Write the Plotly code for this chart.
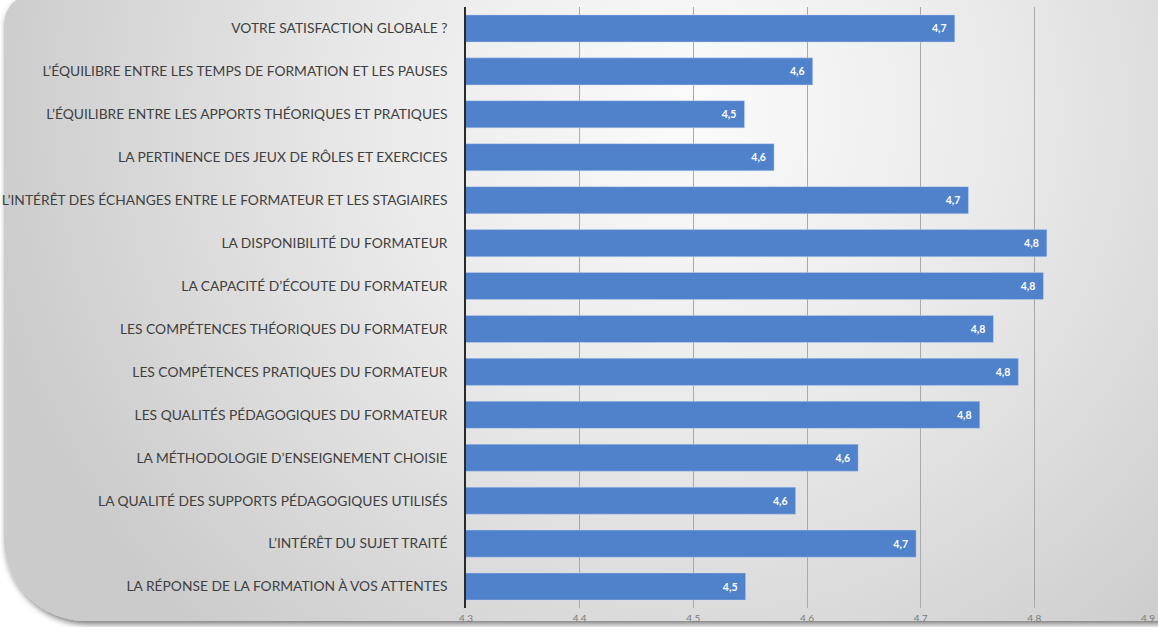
import plotly.graph_objects as go
from urllib.parse import quote

categories = [
    "VOTRE SATISFACTION GLOBALE ?",
    "L’ÉQUILIBRE ENTRE LES TEMPS DE FORMATION ET LES PAUSES",
    "L’ÉQUILIBRE ENTRE LES APPORTS THÉORIQUES ET PRATIQUES",
    "LA PERTINENCE DES JEUX DE RÔLES ET EXERCICES",
    "L’INTÉRÊT DES ÉCHANGES ENTRE LE FORMATEUR ET LES STAGIAIRES",
    "LA DISPONIBILITÉ DU FORMATEUR",
    "LA CAPACITÉ D’ÉCOUTE DU FORMATEUR",
    "LES COMPÉTENCES THÉORIQUES DU FORMATEUR",
    "LES COMPÉTENCES PRATIQUES DU FORMATEUR",
    "LES QUALITÉS PÉDAGOGIQUES DU FORMATEUR",
    "LA MÉTHODOLOGIE D’ENSEIGNEMENT CHOISIE",
    "LA QUALITÉ DES SUPPORTS PÉDAGOGIQUES UTILISÉS",
    "L’INTÉRÊT DU SUJET TRAITÉ",
    "LA RÉPONSE DE LA FORMATION À VOS ATTENTES",
]
values = [4.730, 4.605, 4.545, 4.571, 4.742, 4.811, 4.808,
          4.764, 4.786, 4.752, 4.645, 4.590, 4.696, 4.546]
value_labels = ["4,7", "4,6", "4,5", "4,6", "4,7", "4,8", "4,8",
                "4,8", "4,8", "4,8", "4,6", "4,6", "4,7", "4,5"]
tick_vals = [4.3, 4.4, 4.5, 4.6, 4.7, 4.8, 4.9]
tick_text = ["4.3", "4.4", "4.5", "4.6", "4.7", "4.8", "4.9"]

W, H = 1158, 627
ML, MR, MT, MB = 466, 10, 7, 19

svg = f'''<svg xmlns="http://www.w3.org/2000/svg" width="{W}" height="{H}" viewBox="0 0 {W} {H}">
<defs>
<radialGradient id="g" gradientUnits="userSpaceOnUse" cx="690" cy="110" r="720">
<stop offset="0" stop-color="#fbfbfb"/>
<stop offset="0.45" stop-color="#e9e9e9"/>
<stop offset="1" stop-color="#cbcbcb"/>
</radialGradient>
<filter id="s" x="-5%" y="-5%" width="110%" height="110%">
<feDropShadow dx="2" dy="3" stdDeviation="3" flood-color="#000" flood-opacity="0.55"/>
</filter>
</defs>
<rect width="{W}" height="{H}" fill="#ffffff"/>
<path d="M 34 -6 H 1175 V 621 H 86 A 82 82 0 0 1 4 539 V 24 A 30 30 0 0 1 34 -6 Z" fill="url(#g)" filter="url(#s)"/>
</svg>'''
src = "data:image/svg+xml;charset=utf-8," + quote(svg)

pw = W - ML - MR
ph = H - MT - MB

fig = go.Figure()
fig.add_trace(go.Bar(
    x=values, y=categories, orientation="h",
    marker=dict(color="#5081cb", line=dict(color="rgba(200,215,240,0.7)", width=0.6)),
    text=[t + "\u00a0\u00a0" for t in value_labels],
    textposition="inside", insidetextanchor="end",
    textfont=dict(family="Lato", size=10.5, color="white", weight="bold"),
    hoverinfo="skip",
))

fig.update_layout(
    width=W, height=H,
    margin=dict(l=ML, r=MR, t=MT, b=MB, pad=0),
    paper_bgcolor="rgba(0,0,0,0)", plot_bgcolor="rgba(0,0,0,0)",
    bargap=0.37, showlegend=False,
    images=[dict(source=src, xref="paper", yref="paper",
                 x=-ML / pw, y=1 + MT / ph, sizex=W / pw, sizey=H / ph,
                 xanchor="left", yanchor="top", sizing="stretch", layer="below")],
    xaxis=dict(range=[4.3, 4.9], tickvals=tick_vals, ticktext=tick_text,
               showgrid=True, gridcolor="#a9a9a9", gridwidth=1,
               zeroline=False, showline=False, automargin=False,
               ticks="outside", ticklen=1, tickcolor="rgba(0,0,0,0)",
               tickfont=dict(family="Lato", size=10, color="#7a7a7a")),
    yaxis=dict(autorange="reversed", showgrid=False, zeroline=False,
               showline=True, linecolor="#2a2a2a", linewidth=1.5, automargin=False,
               ticks="outside", ticklen=14, tickcolor="rgba(0,0,0,0)",
               tickfont=dict(family="Lato", size=13.8, color="#404040")),
)
fig.write_html("out.html", config={"displayModeBar": False},
               post_script="document.body.style.margin='0';document.body.style.overflow='hidden';")
